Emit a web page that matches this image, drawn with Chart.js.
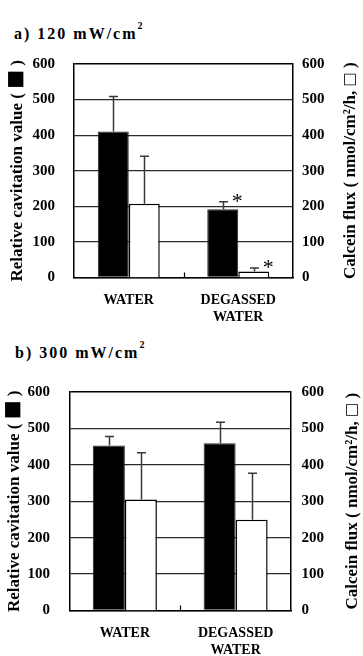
<!DOCTYPE html>
<html>
<head>
<meta charset="utf-8">
<script src="https://cdn.jsdelivr.net/npm/chart.js@4.4.1/dist/chart.umd.min.js"></script>
<style>
html,body{margin:0;padding:0;background:#fff;}
#wrap{position:relative;width:363px;height:656px;overflow:hidden;background:#fff;}
canvas{position:absolute;left:0;}
.head{position:absolute;font:bold 16px 'Liberation Serif','Times New Roman',serif;line-height:16px;letter-spacing:2px;color:#000;white-space:pre;}
.head .sup{font-size:10px;position:relative;top:-10px;letter-spacing:0;}
</style>
</head>
<body>
<div id="wrap">
  <div class="head" style="left:14px;top:26px;">a) 120 mW/cm<span class="sup">2</span></div>
  <canvas id="chartA" width="363" height="328" style="top:0;width:363px;height:328px;"></canvas>
  <div class="head" style="left:15px;top:345px;">b) 300 mW/cm<span class="sup">2</span></div>
  <canvas id="chartB" width="363" height="328" style="top:328px;width:363px;height:328px;"></canvas>
</div>
<script>
// ---------- DATA ----------
const categories = ['WATER', ['DEGASSED', 'WATER']];
const yTicks = [0, 100, 200, 300, 400, 500, 600];

// a) 120 mW/cm2
const cavitationA = [410, 192];
const cavitationErrA = [99, 21];
const calceinA = [207, 17];
const calceinErrA = [134, 10];
const cavitationSigA = [false, true];
const calceinSigA = [false, true];

// b) 300 mW/cm2
const cavitationB = [453, 459];
const cavitationErrB = [25, 58];
const calceinB = [305, 249];
const calceinErrB = [128, 128];
const cavitationSigB = [false, false];
const calceinSigB = [false, false];

const leftTitle = ['Relative cavitation value ( ', '\u25A0', ' )'];
const rightTitle = ['Calcein flux ( nmol/cm\u00B2/h, ', '\u25A1', ' )'];

// ---------- STYLE ----------
const SERIF = "'Liberation Serif', 'Times New Roman', serif";
Chart.defaults.font.family = SERIF;
Chart.defaults.color = '#000';

const errorBarPlugin = {
  id: 'errbars',
  afterDatasetsDraw(chart) {
    const ctx = chart.ctx;
    chart.data.datasets.forEach((ds, i) => {
      const meta = chart.getDatasetMeta(i);
      const scale = chart.scales[meta.yAxisID];
      meta.data.forEach((bar, j) => {
        const v = ds.data[j], e = ds.errors[j];
        const yTop = scale.getPixelForValue(v + e);
        const x = Math.round(bar.x) + 0.5;
        ctx.save();
        ctx.strokeStyle = '#3a3a3a';
        ctx.lineWidth = 1.5;
        ctx.beginPath();
        ctx.moveTo(x, bar.y);
        ctx.lineTo(x, yTop);
        ctx.moveTo(x - 4.5, yTop);
        ctx.lineTo(x + 4.5, yTop);
        ctx.stroke();
        if (ds.sig && ds.sig[j]) {
          ctx.fillStyle = '#000';
          ctx.font = '22px ' + SERIF;
          ctx.textAlign = 'center';
          ctx.textBaseline = 'alphabetic';
          ctx.fillText('*', bar.x + bar.width / 2 - 1, yTop - 4.5 + 0.47 * 22);
        }
        ctx.restore();
      });
    });
  }
};

const midTickPlugin = {
  id: 'midtick',
  afterDraw(chart) {
    const ctx = chart.ctx, a = chart.chartArea, xs = chart.scales.x;
    const px = Math.round((xs.getPixelForValue(0) + xs.getPixelForValue(1)) / 2) + 0.5;
    ctx.save();
    ctx.strokeStyle = '#000';
    ctx.lineWidth = 1.2;
    ctx.beginPath();
    ctx.moveTo(px, a.bottom);
    ctx.lineTo(px, a.bottom - 5);
    ctx.stroke();
    ctx.restore();
  }
};

function drawRotatedParts(ctx, cx, cy, parts, fonts) {
  ctx.save();
  ctx.translate(cx, cy);
  ctx.rotate(-Math.PI / 2);
  ctx.textBaseline = 'middle';
  ctx.textAlign = 'left';
  ctx.fillStyle = '#000';
  const widths = parts.map((p, k) => { ctx.font = fonts[k].font; return ctx.measureText(p).width; });
  const total = widths.reduce((s, w) => s + w, 0);
  let x = -total / 2;
  parts.forEach((p, k) => {
    ctx.font = fonts[k].font;
    ctx.fillText(p, x, fonts[k].dy || 0);
    x += widths[k];
  });
  ctx.restore();
}

const axisTitlePlugin = {
  id: 'axtitles',
  afterDraw(chart, args, opts) {
    const ctx = chart.ctx, a = chart.chartArea;
    const cy = (a.top + a.bottom) / 2;
    const tf = 'bold 17px ' + SERIF;
    drawRotatedParts(ctx, opts.leftX, cy, leftTitle,
      [{font: tf}, {font: '20px "DejaVu Sans"', dy: -2}, {font: tf}]);
    drawRotatedParts(ctx, opts.rightX, cy, rightTitle,
      [{font: tf}, {font: '15px "DejaVu Sans"', dy: -1}, {font: tf}]);
  }
};

function makeChart(id, o) {
  return new Chart(document.getElementById(id), {
    type: 'bar',
    data: {
      labels: categories,
      datasets: [
        {
          label: 'Relative cavitation value',
          data: o.cav, errors: o.cavErr, sig: o.cavSig,
          yAxisID: 'y',
          backgroundColor: '#000', borderColor: '#2a2a2a', borderWidth: 1,
          categoryPercentage: o.catPct, barPercentage: 1
        },
        {
          label: 'Calcein flux',
          data: o.flux, errors: o.fluxErr, sig: o.fluxSig,
          yAxisID: 'y2',
          backgroundColor: '#fff', borderColor: '#000', borderWidth: 1.5,
          categoryPercentage: o.catPct, barPercentage: 1
        }
      ]
    },
    options: {
      responsive: false,
      animation: false,
      events: [],
      layout: { padding: { top: o.padTop, left: 0, right: 0, bottom: 0 } },
      plugins: {
        legend: { display: false },
        tooltip: { enabled: false },
        title: { display: false },
        axtitles: { leftX: o.leftTitleX, rightX: o.rightTitleX }
      },
      scales: {
        x: {
          type: 'category',
          offset: true,
          grid: { display: false, drawTicks: false },
          border: { display: true, color: '#000', width: 1.5 },
          ticks: {
            color: '#000', maxRotation: 0, autoSkip: false, padding: 14,
            font: { family: SERIF, size: 14, weight: 'bold', lineHeight: 1.25 }
          },
          afterFit(s) { s.height = o.bottomH; }
        },
        y: {
          position: 'left', min: 0, max: 600,
          afterBuildTicks(s) { s.ticks = yTicks.map(v => ({ value: v })); },
          grid: {
            drawTicks: false,
            color: c => (c.tick && c.tick.value === 600) ? '#000' : '#2b2b2b',
            lineWidth: c => (c.tick && c.tick.value === 600) ? 1.5 : 1.3
          },
          border: { display: true, color: '#000', width: 1.5 },
          ticks: { color: '#000', padding: o.leftPad, font: { family: SERIF, size: 15, weight: 'bold' } },
          afterFit(s) { s.width = o.leftW; }
        },
        y2: {
          position: 'right', min: 0, max: 600,
          afterBuildTicks(s) { s.ticks = yTicks.map(v => ({ value: v })); },
          grid: { display: false, drawTicks: false },
          border: { display: true, color: '#000', width: 1.5 },
          ticks: { color: '#000', padding: o.rightPad, font: { family: SERIF, size: 15, weight: 'bold' } },
          afterFit(s) { s.width = o.rightW; }
        }
      }
    },
    plugins: [errorBarPlugin, midTickPlugin, axisTitlePlugin]
  });
}

makeChart('chartA', {
  cav: cavitationA, cavErr: cavitationErrA, cavSig: cavitationSigA,
  flux: calceinA, fluxErr: calceinErrA, fluxSig: calceinSigA,
  padTop: 64, leftW: 74, rightW: 70, bottomH: 50.5,
  leftPad: 19, rightPad: 9, catPct: 0.566,
  leftTitleX: 17.5, rightTitleX: 351
});

makeChart('chartB', {
  cav: cavitationB, cavErr: cavitationErrB, cavSig: cavitationSigB,
  flux: calceinB, fluxErr: calceinErrB, fluxSig: calceinSigB,
  padTop: 64, leftW: 69.5, rightW: 72, bottomH: 45.5,
  leftPad: 19.5, rightPad: 10.5, catPct: 0.578,
  leftTitleX: 14.5, rightTitleX: 353
});
</script>
</body>
</html>
